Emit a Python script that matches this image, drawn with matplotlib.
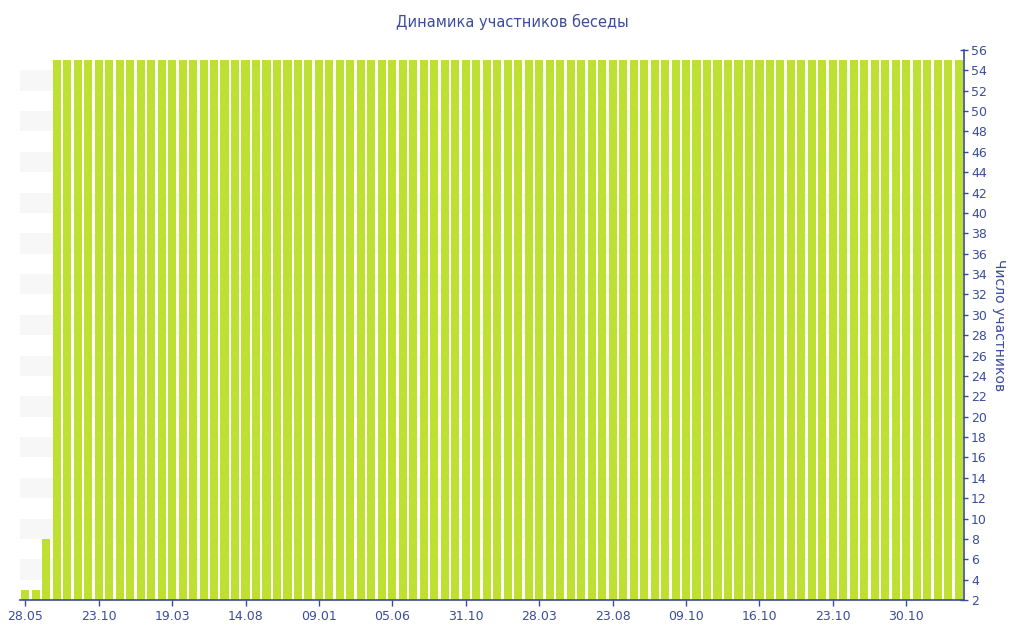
import matplotlib
matplotlib.use("Agg")
import matplotlib.pyplot as plt
import numpy as np

# данные: число участников по датам
values = [3, 3, 8] + [55] * 87
tick_labels = ["28.05", "23.10", "19.03", "14.08", "09.01", "05.06", "31.10",
               "28.03", "23.08", "09.10", "16.10", "23.10", "30.10"]
tick_step = 7

blue = "#3b4c9c"
bar_color = "#bee032"

fig = plt.figure(figsize=(10.24, 6.4), dpi=100)
ax = fig.add_axes([20 / 1024, 1 - 600 / 640, 944 / 1024, 550 / 640])

x = np.arange(len(values))

# чередующиеся полосы фона
for lo in range(4, 56, 4):
    ax.axhspan(lo, lo + 2, color="#f7f7f7", zorder=0, lw=0)

ax.bar(x, values, width=0.77, color=bar_color, zorder=2)

ax.set_xlim(-0.5, len(values) - 0.5)
ax.set_ylim(2, 56)
ax.set_yticks(range(2, 57, 2))
ax.set_xticks(x[::tick_step][:len(tick_labels)])
ax.set_xticklabels(tick_labels)

ax.yaxis.tick_right()
ax.yaxis.set_label_position("right")
ax.set_ylabel("Число участников", color=blue, fontsize=10, rotation=-90,
              labelpad=14)

for s in ["top", "left"]:
    ax.spines[s].set_visible(False)
for s in ["right", "bottom"]:
    ax.spines[s].set_color(blue)
    ax.spines[s].set_linewidth(1.2)

ax.tick_params(axis="both", colors=blue, labelsize=9, length=4, width=1)
ax.tick_params(axis="y", pad=2, direction="inout", length=6)
ax.tick_params(axis="x", pad=3)

fig.text(0.5, 1 - 22 / 640, "Динамика участников беседы", color=blue,
         fontsize=10.5, ha="center", va="center")

fig.savefig("out.png", dpi=100)
